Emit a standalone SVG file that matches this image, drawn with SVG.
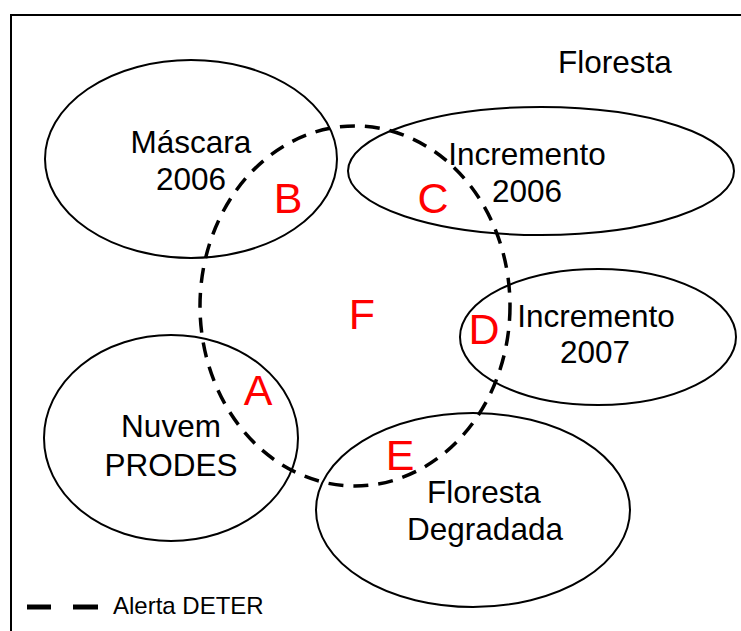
<svg xmlns="http://www.w3.org/2000/svg" width="741" height="631" viewBox="0 0 741 631">
<style>
.e{fill:none;stroke:#000;stroke-width:2}
.t{font-family:"Liberation Sans",Arial,sans-serif;font-size:31.5px;fill:#000;text-anchor:middle}
.r{font-family:"Liberation Sans",Arial,sans-serif;font-size:43px;fill:#ff0000;text-anchor:middle}
</style>
<rect x="11" y="15" width="740" height="630" fill="#fff" stroke="#000" stroke-width="2"/>
<text class="t" x="615" y="73">Floresta</text>
<g id="mascara"><ellipse class="e" cx="191" cy="159" rx="146" ry="99"/><text class="t" x="191" y="153">Máscara</text><text class="t" x="191" y="190">2006</text></g>
<g id="inc2006"><ellipse class="e" cx="541" cy="171" rx="193" ry="64"/><text class="t" x="527" y="165">Incremento</text><text class="t" x="527" y="202">2006</text></g>
<g id="inc2007"><ellipse class="e" cx="598" cy="337" rx="138" ry="68"/><text class="t" x="596" y="327">Incremento</text><text class="t" x="595" y="363">2007</text></g>
<g id="nuvem"><ellipse class="e" cx="171" cy="438" rx="127" ry="103"/><text class="t" x="171" y="437">Nuvem</text><text class="t" x="171" y="476">PRODES</text></g>
<g id="degradada"><ellipse class="e" cx="473" cy="510" rx="157" ry="97"/><text class="t" x="484" y="503">Floresta</text><text class="t" x="485" y="540">Degradada</text></g>
<g id="deter"><ellipse cx="355" cy="306" rx="155" ry="180" fill="none" stroke="#000" stroke-width="3.5" stroke-dasharray="15 10"/></g>
<g id="labels">
<text class="r" x="288" y="213">B</text>
<text class="r" x="433" y="213">C</text>
<text class="r" x="362" y="329">F</text>
<text class="r" x="484" y="344">D</text>
<text class="r" x="258" y="405">A</text>
<text class="r" x="400" y="470">E</text>
</g>
<g id="legend">
<line x1="27" y1="607" x2="51" y2="607" stroke="#000" stroke-width="5"/>
<line x1="73" y1="607" x2="98" y2="607" stroke="#000" stroke-width="5"/>
<text x="113" y="614" font-family="'Liberation Sans',Arial,sans-serif" font-size="24">Alerta DETER</text>
</g>
</svg>
